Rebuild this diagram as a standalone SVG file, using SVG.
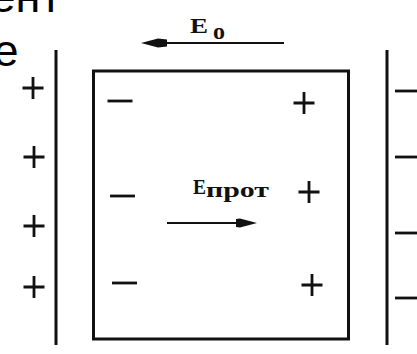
<svg xmlns="http://www.w3.org/2000/svg" width="417" height="354" viewBox="0 0 417 354">
<style>
.ln{stroke:#111;stroke-width:3;fill:none;stroke-linecap:butt}
.ch{stroke:#111;stroke-width:2.8;fill:none}
.ar{stroke:#111;stroke-width:2;fill:none}
.hd{fill:#111;stroke:none}
.sans{font-family:"Liberation Sans",Arial,sans-serif;fill:#000}
.ser{font-family:"Liberation Serif","Times New Roman",serif;font-weight:bold;fill:#111}
</style>
<defs>
<path id="plus" d="M-10.5 0H10.5M0 -11V11"/>
<path id="minus" d="M-12.5 0H12.5"/>
</defs>
<rect width="417" height="354" fill="#fff"/>
<g id="bg-text">
<text class="sans" x="-9.5" y="11.5" font-size="45">ент</text>
<text class="sans" x="-6.5" y="66" font-size="45">е</text>
</g>
<g id="left-plate">
<line class="ln" x1="56" y1="50" x2="56" y2="345"/>
<g class="ch">
<use href="#plus" x="33" y="88"/>
<use href="#plus" x="34" y="157"/>
<use href="#plus" x="34" y="226"/>
<use href="#plus" x="34" y="287"/>
</g>
</g>
<g id="right-plate">
<line class="ln" x1="387" y1="50" x2="387" y2="345"/>
<g class="ch">
<line x1="395" y1="91" x2="419" y2="91"/>
<line x1="395" y1="157" x2="419" y2="157"/>
<line x1="395" y1="233" x2="419" y2="233"/>
<line x1="395" y1="298" x2="419" y2="298"/>
</g>
</g>
<g id="dielectric">
<rect class="ln" x="93.5" y="71" width="255" height="268"/>
<g class="ch">
<use href="#minus" x="120" y="101"/>
<use href="#minus" x="122.5" y="196"/>
<use href="#minus" x="124.5" y="283"/>
<use href="#plus" x="304" y="103"/>
<use href="#plus" x="309" y="192"/>
<use href="#plus" x="312" y="285"/>
</g>
</g>
<g id="label-e0">
<text class="ser" x="190" y="33" font-size="20" textLength="18" lengthAdjust="spacingAndGlyphs">E</text>
<text class="ser" x="213" y="39" font-size="24">o</text>
</g>
<g id="label-eprot">
<text class="ser" x="193" y="194" font-size="22" textLength="13" lengthAdjust="spacingAndGlyphs">E</text>
<text class="ser" x="206" y="197" font-size="21" textLength="63" lengthAdjust="spacingAndGlyphs">прот</text>
</g>
<g id="connectors">
<line class="ar" x1="160" y1="43" x2="284" y2="43"/>
<path class="hd" d="M141 43L158 38.5L167 39.5V46.5L158 47.5Z"/>
<line class="ar" x1="167" y1="223" x2="240" y2="223"/>
<path class="hd" d="M257 223L240 218.5L236 219V227L240 227.5Z"/>
</g>
</svg>
